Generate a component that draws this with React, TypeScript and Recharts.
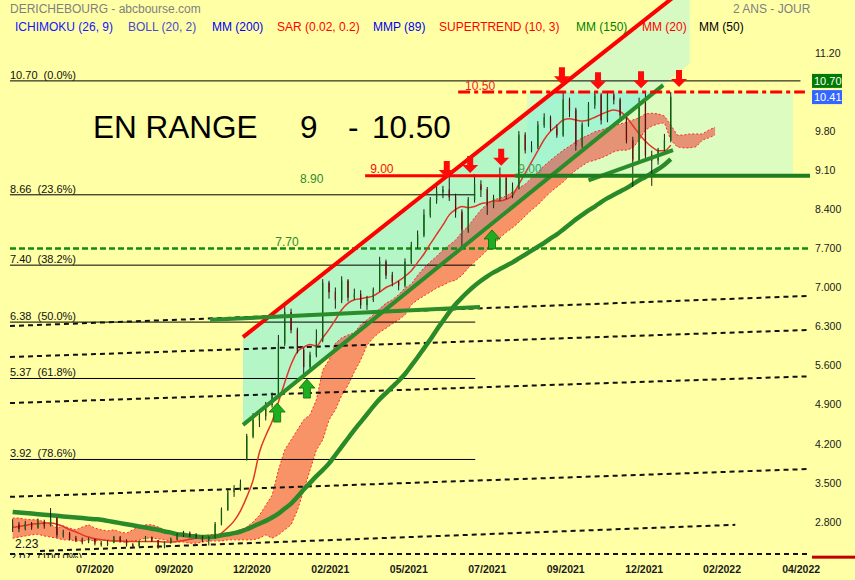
import React from 'react';
import {
  ComposedChart, XAxis, YAxis, Bar, Line, Area, Scatter, ReferenceLine, ReferenceArea,
} from 'recharts';

const FONT = 'Arial, "Liberation Sans", Helvetica, sans-serif';
const BG = '#ffffa6';

// ---------- weekly candles, t = week index (first candle t = 2) ----------
const FIRST_T = 2;
const opens = [
  2.72, 2.75, 2.68, 2.76, 2.70, 2.80, 2.74, 2.86, 2.57, 2.60,
  2.51, 2.48, 2.44, 2.49, 2.42, 2.40, 2.43, 2.52, 2.47, 2.39,
  2.37, 2.45, 2.52, 2.47, 2.35, 2.43, 2.49, 2.57, 2.60, 2.56,
  2.54, 2.47, 2.52, 2.76, 3.02, 3.34, 3.40, 3.92, 4.33, 4.62,
  4.70, 4.90, 5.06, 6.00, 6.55, 6.24, 5.88, 5.58, 5.79, 6.06,
  7.08, 6.92, 6.78, 7.12, 6.82, 6.88, 6.69, 6.78, 6.96, 7.46,
  7.22, 7.10, 7.04, 7.46, 7.76, 7.94, 8.30, 8.57, 8.71, 8.75,
  8.62, 8.35, 8.03, 8.57, 8.84, 8.75, 8.48, 8.60, 8.96, 8.66,
  8.78, 9.73, 9.46, 9.52, 9.91, 10.04, 9.86, 9.73, 10.36, 10.18,
  9.55, 9.91, 10.27, 10.45, 10.00, 10.45, 10.36, 10.09, 9.64, 9.28,
  10.30, 9.37, 9.28, 9.46, 9.64,
];
const highs = [
  2.85, 2.80, 2.82, 2.80, 2.86, 2.84, 3.05, 2.88, 2.66, 2.62,
  2.55, 2.52, 2.52, 2.50, 2.46, 2.47, 2.55, 2.55, 2.49, 2.42,
  2.47, 2.55, 2.54, 2.48, 2.45, 2.52, 2.60, 2.64, 2.63, 2.60,
  2.56, 2.54, 2.80, 3.06, 3.40, 3.46, 3.56, 4.38, 4.75, 4.78,
  4.95, 5.12, 6.15, 6.70, 6.62, 6.28, 5.92, 5.85, 6.25, 7.15,
  7.12, 7.00, 7.20, 7.15, 6.98, 6.95, 6.85, 7.00, 7.55, 7.50,
  7.28, 7.12, 7.52, 7.82, 8.02, 8.40, 8.62, 8.85, 8.82, 8.98,
  8.68, 8.40, 8.62, 9.03, 8.92, 8.80, 8.66, 9.15, 9.00, 8.88,
  9.80, 9.78, 9.62, 9.98, 10.12, 10.08, 9.92, 10.50, 10.40, 10.22,
  9.96, 10.32, 10.52, 10.48, 10.50, 10.48, 10.40, 10.12, 9.70, 10.40,
  10.52, 9.45, 9.50, 9.75, 10.50,
];
const lows = [
  2.62, 2.62, 2.65, 2.66, 2.68, 2.68, 2.72, 2.52, 2.52, 2.47,
  2.44, 2.40, 2.42, 2.38, 2.36, 2.37, 2.42, 2.44, 2.36, 2.34,
  2.36, 2.44, 2.44, 2.32, 2.33, 2.41, 2.47, 2.53, 2.53, 2.50,
  2.44, 2.38, 2.50, 2.74, 3.00, 3.25, 3.36, 3.90, 4.30, 4.50,
  4.62, 4.85, 5.02, 5.95, 6.18, 5.82, 5.45, 5.50, 5.75, 6.02,
  6.80, 6.62, 6.72, 6.75, 6.78, 6.62, 6.60, 6.74, 6.92, 7.15,
  7.02, 6.95, 7.00, 7.42, 7.70, 7.90, 8.25, 8.50, 8.60, 8.55,
  8.25, 7.72, 7.98, 8.52, 8.62, 8.30, 8.42, 8.55, 8.58, 8.60,
  8.76, 9.40, 9.42, 9.48, 9.86, 9.80, 9.68, 9.70, 10.05, 9.45,
  9.50, 9.88, 10.20, 9.92, 9.96, 10.28, 10.02, 9.58, 8.80, 9.22,
  9.30, 8.82, 9.20, 9.42, 9.60,
];
const closes = [
  2.75, 2.68, 2.76, 2.70, 2.80, 2.74, 2.86, 2.57, 2.60, 2.51,
  2.48, 2.44, 2.49, 2.42, 2.40, 2.43, 2.52, 2.47, 2.39, 2.37,
  2.45, 2.52, 2.47, 2.35, 2.43, 2.49, 2.57, 2.60, 2.56, 2.54,
  2.47, 2.52, 2.76, 3.02, 3.34, 3.40, 3.48, 4.33, 4.62, 4.70,
  4.90, 5.06, 6.00, 6.55, 6.24, 5.88, 5.58, 5.79, 6.06, 7.08,
  6.92, 6.78, 7.12, 6.82, 6.88, 6.69, 6.78, 6.96, 7.46, 7.22,
  7.10, 7.04, 7.46, 7.76, 7.94, 8.30, 8.57, 8.71, 8.75, 8.62,
  8.35, 8.03, 8.57, 8.84, 8.75, 8.48, 8.60, 8.96, 8.66, 8.78,
  9.73, 9.46, 9.52, 9.91, 10.04, 9.86, 9.73, 10.36, 10.18, 9.55,
  9.91, 10.27, 10.45, 10.00, 10.45, 10.36, 10.09, 9.64, 9.28, 10.30,
  9.37, 9.28, 9.46, 9.64, 10.41,
];
const mm20 = [
  2.70, 2.72, 2.74, 2.76, 2.77, 2.78, 2.78, 2.76, 2.72, 2.66,
  2.62, 2.57, 2.53, 2.50, 2.48, 2.47, 2.46, 2.46, 2.45, 2.45,
  2.45, 2.45, 2.45, 2.45, 2.44, 2.44, 2.45, 2.47, 2.49, 2.51,
  2.52, 2.52, 2.54, 2.60, 2.70, 2.82, 3.00, 3.25, 3.55, 4.05,
  4.35, 4.60, 4.95, 5.30, 5.62, 5.85, 5.93, 5.98, 5.95, 6.10,
  6.25, 6.42, 6.60, 6.72, 6.78, 6.80, 6.82, 6.85, 6.92, 7.00,
  7.05, 7.12, 7.20, 7.30, 7.45, 7.60, 7.78, 7.95, 8.12, 8.30,
  8.40, 8.45, 8.43, 8.45, 8.50, 8.52, 8.55, 8.55, 8.58, 8.65,
  8.85, 9.05, 9.25, 9.45, 9.65, 9.80, 9.90, 10.00, 10.02, 10.00,
  9.98, 10.00, 10.05, 10.10, 10.15, 10.18, 10.15, 10.05, 9.90, 9.75,
  9.62, 9.52, 9.45, 9.45, 9.55,
];
const mm150 = [
  2.98, 2.97, 2.96, 2.95, 2.94, 2.93, 2.92, 2.91, 2.90, 2.89,
  2.88, 2.87, 2.86, 2.85, 2.84, 2.82, 2.80, 2.78, 2.76, 2.74,
  2.72, 2.70, 2.68, 2.66, 2.63, 2.61, 2.58, 2.57, 2.55, 2.54,
  2.53, 2.53, 2.54, 2.56, 2.58, 2.60, 2.63, 2.67, 2.72, 2.77,
  2.82, 2.88, 2.95, 3.04, 3.13, 3.25, 3.38, 3.50, 3.62, 3.73,
  3.85, 4.00, 4.15, 4.30, 4.45, 4.59, 4.73, 4.87, 5.00, 5.11,
  5.22, 5.33, 5.45, 5.60, 5.75, 5.91, 6.07, 6.24, 6.40, 6.56,
  6.70, 6.82, 6.93, 7.03, 7.12, 7.20, 7.27, 7.33, 7.39, 7.45,
  7.52, 7.59, 7.66, 7.73, 7.80, 7.88, 7.95, 8.04, 8.13, 8.22,
  8.30, 8.38, 8.45, 8.53, 8.60, 8.66, 8.72, 8.78, 8.85, 8.92,
  8.98, 9.05, 9.12, 9.20, 9.30,
];
// Ichimoku cloud (projected 7 weeks further)
const cloudTop = [
  2.87, 2.87, 2.85, 2.84, 2.84, 2.80, 2.76, 2.69, 2.73, 2.69,
  2.66, 2.71, 2.75, 2.69, 2.66, 2.64, 2.66, 2.62, 2.60, 2.66,
  2.71, 2.75, 2.75, 2.71, 2.66, 2.60, 2.57, 2.55, 2.53, 2.53,
  2.55, 2.57, 2.58, 2.58, 2.60, 2.62, 2.66, 2.71, 2.80, 2.92,
  3.10, 3.28, 3.73, 4.09, 4.27, 4.45, 4.63, 4.72, 4.99, 5.52,
  5.70, 6.00, 6.10, 6.15, 6.19, 6.33, 6.42, 6.51, 6.62, 6.72,
  6.78, 6.87, 6.99, 7.06, 7.22, 7.35, 7.46, 7.56, 7.67, 7.76,
  7.85, 7.99, 8.10, 8.25, 8.39, 8.50, 8.57, 8.60, 8.64, 8.71,
  8.78, 8.85, 8.96, 9.07, 9.18, 9.28, 9.37, 9.46, 9.53, 9.61,
  9.68, 9.73, 9.79, 9.82, 9.86, 9.89, 9.93, 9.96, 10.00, 10.04,
  10.11, 10.12, 10.11, 10.07, 9.91, 9.73, 9.73, 9.75, 9.75, 9.75,
  9.82, 9.87,
];
const cloudBottom = [
  2.51, 2.53, 2.55, 2.57, 2.58, 2.55, 2.53, 2.51, 2.48, 2.48,
  2.46, 2.46, 2.48, 2.46, 2.48, 2.48, 2.46, 2.44, 2.44, 2.46,
  2.48, 2.51, 2.51, 2.50, 2.48, 2.46, 2.44, 2.44, 2.42, 2.42,
  2.44, 2.46, 2.46, 2.46, 2.48, 2.48, 2.48, 2.48, 2.48, 2.51,
  2.57, 2.51, 2.57, 2.66, 2.75, 3.01, 3.37, 3.73, 4.09, 4.27,
  4.63, 4.81, 5.07, 5.25, 5.49, 5.70, 5.97, 6.10, 6.20, 6.27,
  6.35, 6.42, 6.51, 6.69, 6.78, 6.85, 6.92, 6.99, 7.04, 7.10,
  7.13, 7.22, 7.35, 7.46, 7.56, 7.67, 7.78, 7.89, 7.99, 8.07,
  8.17, 8.28, 8.39, 8.48, 8.60, 8.71, 8.80, 8.89, 9.00, 9.10,
  9.18, 9.25, 9.28, 9.32, 9.37, 9.43, 9.46, 9.46, 9.50, 9.64,
  9.82, 9.89, 9.93, 9.95, 9.64, 9.52, 9.50, 9.50, 9.52, 9.64,
  9.68, 9.73,
];

// ---------- axes ----------
const X_DOMAIN = [0, 128];
const Y_DOMAIN = [2.155, 12.149];
const xTickPos = [15.0, 27.5, 39.8, 52.2, 64.6, 77.0, 89.4, 101.8, 114.1, 126.6];
const xTickLabels = ['07/2020', '09/2020', '12/2020', '02/2021', '05/2021', '07/2021', '09/2021', '12/2021', '02/2022', '04/2022'];
const yTicks = [2.8, 3.5, 4.2, 4.9, 5.6, 6.3, 7.0, 7.7, 8.4, 9.1, 9.8, 11.2];
const yTickLabels = ['2.800', '3.500', '4.200', '4.900', '5.600', '6.300', '7.000', '7.700', '8.400', '9.10', '9.80', '11.20'];

// ---------- Fibonacci retracement ----------
const fibLevels = [10.70, 8.66, 7.40, 6.38, 5.37, 3.92, 2.07];
const fibPercents = ['0.0%', '23.6%', '38.2%', '50.0%', '61.8%', '78.6%', '100.0%'];
const fibStart = 1.58;
const fibEnds = [126.5, 75.1, 75.1, 75.1, 75.1, 75.1, 75.1];

// ---------- drawn lines (t, price) ----------
const dashedLines = [
  [[1.58, 6.31], [128, 6.85]],
  [[1.58, 5.755], [128, 6.24]],
  [[1.58, 4.93], [128, 5.41]],
  [[1.58, 3.25], [128, 3.75]],
  [[6.32, 2.28], [116.2, 2.75]],
  [[1.58, 2.226], [128, 2.226]],
];
const channelT = [38.4, 109];
const channelUpper = [6.11, 12.43];
const channelLower = [4.54, 11.01];
const lowerChannelEndT = 104.8;
const rangeBox = { t1: 83.3, t2: 125.3, low: 9.0, high: 10.5 };
const supportLine = [[33.2, 6.42], [75.85, 6.65]];
const shortSupport = [[93, 8.92], [106.35, 9.46]];
const level1050 = [72.4, 127.2];
const redLevel900 = [57.7, 81.4];
const greenLevel900 = [81.4, 128];
const level770 = [1.58, 128];

const downArrows = [
  { t: 70.6, v: 8.96 }, { t: 74.3, v: 9.05 }, { t: 79.2, v: 9.18 },
  { t: 88.8, v: 10.64 }, { t: 94.5, v: 10.55 }, { t: 101.3, v: 10.57 }, { t: 107.3, v: 10.59 },
];
const upArrows = [{ t: 43.8, v: 4.93 }, { t: 48.5, v: 5.36 }, { t: 77.75, v: 8.03 }];

const RED = '#ff0000';
const GREEN_TXT = '#2e8b2e';
const textMarks = [
  ...fibLevels.map((lv, i) => ({ t: fibStart, v: lv, text: `${lv.toFixed(2)}  (${fibPercents[i]})`, color: '#111', size: 11, dy: -2 })),
  { t: 73.5, v: 10.5, text: '10.50', color: '#ee2222', size: 12, dy: -2 },
  { t: 58.5, v: 9.0, text: '9.00', color: '#ee1111', size: 12, dy: -3 },
  { t: 81.9, v: 9.0, text: '9.00', color: '#4f9f4f', size: 12, dy: -3 },
  { t: 47.4, v: 8.9, text: '8.90', color: GREEN_TXT, size: 12, dy: 2 },
  { t: 43.5, v: 7.7, text: '7.70', color: GREEN_TXT, size: 12, dy: -2 },
  { t: 2.37, v: 2.226, text: '2.23', color: '#111', size: 12, dy: -6 },
];

const rows = cloudTop.map((top, i) => {
  const has = i < closes.length;
  return {
    t: FIRST_T + i,
    candle: has ? [lows[i], highs[i]] : null,
    o: has ? opens[i] : null,
    h: has ? highs[i] : null,
    l: has ? lows[i] : null,
    c: has ? closes[i] : null,
    mm20: has ? mm20[i] : null,
    mm150: has ? mm150[i] : null,
    cloud: [cloudBottom[i], top],
  };
});

// ---------- shapes ----------
const Candle = (props: any) => {
  const { x, y, width, height, payload } = props;
  if (!payload || payload.o == null || !isFinite(y) || !isFinite(height)) return <g />;
  const { o, h, l, c } = payload;
  const top = Math.min(y, y + height);
  const hpx = Math.abs(height);
  const span = h - l;
  const py = (v: number) => (span > 0 ? top + ((h - v) / span) * hpx : top);
  const cx = x + width / 2;
  const up = c >= o;
  const bTop = py(Math.max(o, c));
  const bBot = py(Math.min(o, c));
  return (
    <g>
      <line x1={cx} x2={cx} y1={top} y2={top + hpx} stroke="#1b1b1b" strokeWidth={1} />
      <rect x={x} y={bTop} width={width} height={Math.max(1.2, bBot - bTop)}
        fill={up ? '#2fd02f' : '#d02424'} stroke={up ? '#0c5e0c' : '#5e0c0c'} strokeWidth={0.7} />
    </g>
  );
};

const ChannelShape = (props: any) => {
  const { x, y, width, height, clipPath } = props;
  if (!isFinite(x) || !isFinite(y)) return <g />;
  const [t0, t1] = channelT;
  const vTop = channelUpper[1];
  const vBot = channelLower[0];
  const cap = rangeBox.high;
  const px = (t: number) => x + ((t - t0) / (t1 - t0)) * width;
  const py = (v: number) => y + ((vTop - v) / (vTop - vBot)) * height;
  const tAt = (a: number, b: number, v: number) => t0 + ((v - a) / (b - a)) * (t1 - t0);
  const tR = tAt(channelUpper[0], channelUpper[1], cap);
  const tG = tAt(channelLower[0], channelLower[1], cap);
  const pts = (arr: number[][]) => arr.map(([t, v]) => `${px(t)},${py(v)}`).join(' ');
  return (
    <g clipPath={clipPath}>
      <polygon points={pts([[t0, channelLower[0]], [t0, channelUpper[0]], [tR, cap], [tG, cap]])}
        fill="#82f0dc" fillOpacity={0.6} />
      <polygon points={pts([[tR, cap], [t1, channelUpper[1]], [t1, channelLower[1]], [tG, cap]])}
        fill="#d6fac2" />
    </g>
  );
};

const DownArrow = (p: any) => {
  const { cx, cy } = p;
  if (cx == null || cy == null) return <g />;
  const d = `M${cx},${cy} L${cx - 8},${cy - 8} L${cx - 3},${cy - 8} L${cx - 3},${cy - 17} L${cx + 3},${cy - 17} L${cx + 3},${cy - 8} L${cx + 8},${cy - 8} Z`;
  return <path d={d} fill="#ff0a0a" />;
};
const UpArrow = (p: any) => {
  const { cx, cy } = p;
  if (cx == null || cy == null) return <g />;
  const d = `M${cx},${cy} L${cx + 8},${cy + 9} L${cx + 3.5},${cy + 9} L${cx + 3.5},${cy + 19} L${cx - 3.5},${cy + 19} L${cx - 3.5},${cy + 9} L${cx - 8},${cy + 9} Z`;
  return <path d={d} fill="#1fae1f" stroke="#0b6a0b" strokeWidth={0.8} />;
};
const TextMark = (p: any) => {
  const { cx, cy, payload } = p;
  if (cx == null || !payload) return <g />;
  return (
    <text x={cx} y={cy + payload.dy} fill={payload.color} fontSize={payload.size}
      fontFamily={FONT} style={{ whiteSpace: 'pre' }}>{payload.text}</text>
  );
};
const priceBox = (text: string, bg: string) => (p: any) => {
  const vb = p.viewBox || {};
  const x = (vb.x || 0) + (vb.width || 0) + 2;
  const y = vb.y || 0;
  return (
    <g>
      <rect x={x} y={y - 7} width={30} height={14} fill={bg} />
      <text x={x + 2} y={y + 4} fill="#ffffff" fontSize={11} fontFamily={FONT}>{text}</text>
    </g>
  );
};
const edgeBar = (p: any) => {
  const vb = p.viewBox || {};
  const x = (vb.x || 0) + (vb.width || 0) + 2;
  return <rect x={x} y={(vb.y || 0) - 1.5} width={45} height={3} fill="#c00000" />;
};

const seg = (a: number[], b: number[]) => [{ x: a[0], y: a[1] }, { x: b[0], y: b[1] }];

const legendItems = [
  { x: 15, text: 'ICHIMOKU (26, 9)', color: '#1414ff' },
  { x: 128, text: 'BOLL (20, 2)', color: '#4848c8' },
  { x: 212, text: 'MM (200)', color: '#0000ee' },
  { x: 277, text: 'SAR (0.02, 0.2)', color: '#ff0000' },
  { x: 373, text: 'MMP (89)', color: '#0000ee' },
  { x: 439, text: 'SUPERTREND (10, 3)', color: '#ff0000' },
  { x: 576, text: 'MM (150)', color: '#008000' },
  { x: 642, text: 'MM (20)', color: '#ff0000' },
  { x: 699, text: 'MM (50)', color: '#000000' },
];

export default function App() {
  const abs = (left: number, top: number, extra: any = {}) => ({
    position: 'absolute' as const, left, top, fontFamily: FONT, whiteSpace: 'pre' as const, lineHeight: 'normal', ...extra,
  });
  return (
    <div style={{ position: 'absolute', left: 0, top: 0, width: 855, height: 580, background: BG, overflow: 'hidden' }}>
      <ComposedChart width={855} height={580} data={rows} margin={{ top: 0, right: 0, bottom: 0, left: 0 }}>
        <XAxis type="number" dataKey="t" domain={X_DOMAIN} allowDataOverflow ticks={xTickPos} interval={0}
          tickFormatter={(v: number) => xTickLabels[xTickPos.indexOf(v)] ?? ''}
          axisLine={false} tickLine={false} tickSize={0} tickMargin={8} height={22}
          tick={{ fill: '#1a1a1a', fontSize: 10.5, fontWeight: 700, fontFamily: FONT }} />
        <YAxis orientation="right" type="number" domain={Y_DOMAIN} allowDataOverflow ticks={yTicks} interval={0}
          tickFormatter={(v: number) => yTickLabels[yTicks.indexOf(v)] ?? ''}
          axisLine={false} tickLine={false} tickSize={0} tickMargin={5} width={45}
          tick={{ fill: '#1a1a1a', fontSize: 10.5, fontFamily: FONT }} />

        <ReferenceArea x1={rangeBox.t1} x2={rangeBox.t2} y1={rangeBox.low} y2={rangeBox.high}
          fill="#dcfcc0" fillOpacity={1} stroke="none" ifOverflow="hidden" zIndex={10} />
        <ReferenceArea x1={channelT[0]} x2={channelT[1]} y1={channelLower[0]} y2={channelUpper[1]}
          ifOverflow="hidden" shape={ChannelShape} zIndex={20} />

        <Area type="linear" dataKey="cloud" stroke="#ff2a2a" strokeWidth={1} strokeDasharray="2 2"
          fill="#f02828" fillOpacity={0.5} dot={false} activeDot={false} isAnimationActive={false} zIndex={30} />

        {fibLevels.map((lv, i) => (
          <ReferenceLine key={`fib${i}`} segment={seg([fibStart, lv], [fibEnds[i], lv])}
            stroke="#000" strokeWidth={1} ifOverflow="hidden" zIndex={40} />
        ))}
        {dashedLines.map((s, i) => (
          <ReferenceLine key={`dl${i}`} segment={seg(s[0], s[1])} stroke="#111" strokeWidth={2}
            strokeDasharray="5 4" ifOverflow="hidden" zIndex={40} />
        ))}
        <ReferenceLine segment={seg([level770[0], 7.7], [level770[1], 7.7])} stroke="#138a13" strokeWidth={2.5}
          strokeDasharray="6 3" ifOverflow="hidden" zIndex={40} />

        <Line type="monotone" dataKey="mm20" stroke="#e2352a" strokeWidth={1.5} dot={false} activeDot={false}
          isAnimationActive={false} zIndex={50} />
        <Line type="monotone" dataKey="mm150" stroke="#2a8a2a" strokeWidth={4.5} dot={false} activeDot={false}
          isAnimationActive={false} zIndex={60} />

        <Bar dataKey="candle" barSize={5} shape={Candle} isAnimationActive={false} zIndex={70} />

        <ReferenceLine segment={seg([channelT[0], channelUpper[0]], [channelT[1], channelUpper[1]])}
          stroke={RED} strokeWidth={4} ifOverflow="hidden" zIndex={80} />
        <ReferenceLine segment={seg([channelT[0], channelLower[0]],
          [lowerChannelEndT, channelLower[0] + (channelLower[1] - channelLower[0]) * (lowerChannelEndT - channelT[0]) / (channelT[1] - channelT[0])])}
          stroke="#2a8c2a" strokeWidth={4} ifOverflow="hidden" zIndex={80} />
        <ReferenceLine segment={seg(supportLine[0], supportLine[1])} stroke="#2a8c2a" strokeWidth={4} ifOverflow="hidden" zIndex={80} />
        <ReferenceLine segment={seg(shortSupport[0], shortSupport[1])} stroke="#2a8c2a" strokeWidth={4} ifOverflow="hidden" zIndex={80} />
        <ReferenceLine segment={seg([level1050[0], 10.5], [level1050[1], 10.5])} stroke={RED} strokeWidth={3}
          strokeDasharray="12 4 4 4" ifOverflow="hidden" zIndex={80} />
        <ReferenceLine segment={seg([redLevel900[0], 9.0], [redLevel900[1], 9.0])} stroke={RED} strokeWidth={3}
          ifOverflow="hidden" zIndex={80} />
        <ReferenceLine segment={seg([greenLevel900[0], 9.0], [greenLevel900[1], 9.0])} stroke="#1e7d1e" strokeWidth={4}
          ifOverflow="hidden" zIndex={80} />

        <Scatter data={downArrows} dataKey="v" shape={DownArrow} isAnimationActive={false} zIndex={90} />
        <Scatter data={upArrows} dataKey="v" shape={UpArrow} isAnimationActive={false} zIndex={90} />
        <Scatter data={textMarks} dataKey="v" shape={TextMark} isAnimationActive={false} zIndex={100} />

        <ReferenceLine y={10.70} stroke="none" label={priceBox('10.70', '#007a00')} zIndex={110} />
        <ReferenceLine y={10.41} stroke="none" label={priceBox('10.41', '#3366ff')} zIndex={110} />
        <ReferenceLine y={2.17} stroke="none" label={edgeBar} zIndex={110} />
      </ComposedChart>

      <div style={abs(10, 2, { fontSize: 12, color: '#808080' })}>DERICHEBOURG - abcbourse.com</div>
      <div style={abs(733, 2, { fontSize: 12, color: '#808080' })}>2 ANS - JOUR</div>
      {legendItems.map((it) => (
        <div key={it.text} style={abs(it.x, 20, { fontSize: 12, color: it.color })}>{it.text}</div>
      ))}
      <div style={abs(93, 109, { fontSize: 31.5, color: '#000' })}>EN RANGE</div>
      <div style={abs(300, 109, { fontSize: 31.5, color: '#000' })}>9</div>
      <div style={abs(348, 109, { fontSize: 31.5, color: '#000' })}>-</div>
      <div style={abs(372, 109, { fontSize: 31.5, color: '#000' })}>10.50</div>
    </div>
  );
}
